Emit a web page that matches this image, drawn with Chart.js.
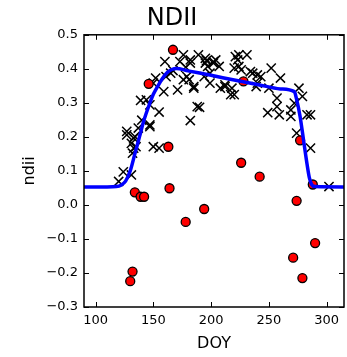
<html>
  <head>
    <script src="https://cdn.jsdelivr.net/npm/chart.js@4.4.1/dist/chart.umd.min.js"></script>
    <style>body { margin: 0; background: #fff; }</style>
  </head>
  <body>
    <canvas id="ndiiChart" width="347" height="357"></canvas>
    <script>
      let crossDoy = [120, 124, 131, 127, 127, 134, 131, 133, 132, 135, 133, 137, 140, 147, 147, 139, 144, 147, 150, 155,
        155, 150, 152, 159, 161, 165, 160, 171, 173, 176, 176, 179, 182, 182, 185, 189, 190, 194, 196, 182,
        181, 185, 188, 195, 195, 197, 199, 199, 202, 202, 204, 207, 208, 212, 212, 217, 218, 220, 220, 221,
        223, 224, 224, 226, 231, 234, 236, 239, 240, 240, 243, 249, 250, 252, 257, 257, 259, 260, 269, 269,
        272, 274, 276, 279, 283, 286, 286, 302, 167, 178];
      let crossNdii = [0.069, 0.097, 0.088, 0.216, 0.206, 0.201, 0.181, 0.167, 0.152, 0.171, 0.196, 0.226, 0.249, 0.230, 0.235, 0.307, 0.309, 0.294, 0.171, 0.167,
        0.273, 0.358, 0.373, 0.333, 0.377, 0.387, 0.421, 0.338, 0.421, 0.441, 0.368, 0.377, 0.417, 0.248, 0.348, 0.441, 0.287, 0.377, 0.424, 0.426,
        0.368, 0.343, 0.289, 0.431, 0.417, 0.407, 0.358, 0.387, 0.417, 0.421, 0.426, 0.407, 0.343, 0.353, 0.348, 0.324, 0.343, 0.324, 0.402, 0.436,
        0.426, 0.441, 0.407, 0.397, 0.441, 0.392, 0.387, 0.348, 0.382, 0.358, 0.377, 0.271, 0.343, 0.402, 0.314, 0.289, 0.265, 0.373, 0.279, 0.260,
        0.299, 0.211, 0.343, 0.319, 0.265, 0.265, 0.167, 0.054, 0.395, 0.405];

      // flagged observations (red)
      let redDoy = [167, 146, 163, 134, 139, 142, 164, 194, 178, 132, 130, 226, 242, 274, 288, 290, 271, 279, 228, 277];
      let redNdii = [0.456, 0.356, 0.171, 0.037, 0.024, 0.024, 0.049, -0.012, -0.05, -0.196, -0.224, 0.124, 0.083, 0.012, 0.06, -0.112, -0.155, -0.215, 0.363, 0.19];

      // fitted curve
      let fitDoy = [90, 110, 118, 122, 126, 130, 134, 138, 142, 146, 150, 154, 158, 162, 166, 170, 180, 200, 220, 240, 260, 272, 274, 277, 280, 283, 285, 287, 290, 315];
      let fitNdii = [0.053, 0.053, 0.054, 0.058, 0.07, 0.1, 0.15, 0.2, 0.25, 0.29, 0.325, 0.35, 0.372, 0.389, 0.398, 0.401, 0.394, 0.381, 0.367, 0.354, 0.341, 0.333, 0.31, 0.26, 0.19, 0.12, 0.08, 0.06, 0.054, 0.053];

      let xTicks = [100, 150, 200, 250, 300];
      let yTicks = [-0.3, -0.2, -0.1, 0.0, 0.1, 0.2, 0.3, 0.4, 0.5];

      function pairs(xs, ys) {
        return xs.map(function(x, i) { return {x: x, y: ys[i]}; });
      }

      const fontFamily = "'DejaVu Sans', sans-serif";

      // matplotlib-like frame with inward ticks on all four sides
      const frameTicks = {
        id: 'frameTicks',
        afterDraw: function(chart) {
          const ctx = chart.ctx;
          const a = chart.chartArea;
          const xs = chart.scales.x, ys = chart.scales.y;
          const len = 5;
          ctx.save();
          ctx.strokeStyle = '#000';
          ctx.lineWidth = 1;
          ctx.beginPath();
          xTicks.forEach(function(v) {
            const px = Math.round(xs.getPixelForValue(v)) + 0.5;
            ctx.moveTo(px, a.bottom); ctx.lineTo(px, a.bottom - len);
            ctx.moveTo(px, a.top); ctx.lineTo(px, a.top + len);
          });
          yTicks.forEach(function(v) {
            const py = Math.round(ys.getPixelForValue(v)) + 0.5;
            ctx.moveTo(a.left, py); ctx.lineTo(a.left + len, py);
            ctx.moveTo(a.right, py); ctx.lineTo(a.right - len, py);
          });
          ctx.stroke();
          ctx.lineWidth = 1.5;
          ctx.strokeRect(a.left, a.top, a.right - a.left, a.bottom - a.top);
          ctx.restore();
        }
      };

      new Chart(document.getElementById('ndiiChart'), {
        type: 'scatter',
        data: {
          datasets: [
            {
              type: 'line',
              data: pairs(fitDoy, fitNdii),
              borderColor: '#0000ff',
              borderWidth: 3.5,
              pointRadius: 0,
              cubicInterpolationMode: 'monotone',
              fill: false,
              order: 0
            },
            {
              data: pairs(redDoy, redNdii),
              pointStyle: 'circle',
              pointRadius: 4.5,
              backgroundColor: '#ff0000',
              borderColor: '#000',
              borderWidth: 1.3,
              order: 1
            },
            {
              data: pairs(crossDoy, crossNdii),
              pointStyle: 'crossRot',
              pointRadius: 6.5,
              borderColor: '#000',
              borderWidth: 1.5,
              order: 2
            }
          ]
        },
        options: {
          responsive: false,
          animation: false,
          clip: false,
          layout: { autoPadding: false, padding: { left: 0, right: 3, top: 0, bottom: 0 } },
          plugins: {
            legend: { display: false },
            tooltip: { enabled: false },
            title: {
              display: true,
              text: 'NDII',
              color: '#000',
              font: { family: fontFamily, size: 24, weight: 'normal', lineHeight: 1.2 },
              padding: { top: 4, bottom: 2 }
            }
          },
          scales: {
            x: {
              type: 'linear',
              min: 90,
              max: 315,
              afterBuildTicks: function(scale) {
                scale.ticks = xTicks.map(function(v) { return {value: v}; });
              },
              afterFit: function(scale) {
                scale.height = 50;
                scale.paddingLeft = 0;
                scale.paddingRight = 0;
              },
              grid: { display: false, drawTicks: false },
              border: { display: false },
              ticks: {
                color: '#000',
                padding: 6,
                maxRotation: 0,
                font: { family: fontFamily, size: 13 }
              },
              title: {
                display: true,
                text: 'DOY',
                color: '#000',
                font: { family: fontFamily, size: 16, lineHeight: 1.2 },
                padding: { top: 0, bottom: 4 }
              }
            },
            y: {
              type: 'linear',
              min: -0.3,
              max: 0.5,
              afterBuildTicks: function(scale) {
                scale.ticks = yTicks.map(function(v) { return {value: v}; });
              },
              afterFit: function(scale) {
                scale.width = 84;
                scale.paddingTop = 0;
                scale.paddingBottom = 0;
              },
              grid: { display: false, drawTicks: false },
              border: { display: false },
              ticks: {
                color: '#000',
                padding: 6,
                font: { family: fontFamily, size: 13 },
                callback: function(v) { return v.toFixed(1).replace('-', '\u2212'); }
              },
              title: {
                display: true,
                text: 'ndii',
                color: '#000',
                font: { family: fontFamily, size: 16, lineHeight: 1.2 },
                padding: { top: 20, bottom: 0 }
              }
            }
          }
        },
        plugins: [frameTicks]
      });
    </script>
  </body>
</html>
